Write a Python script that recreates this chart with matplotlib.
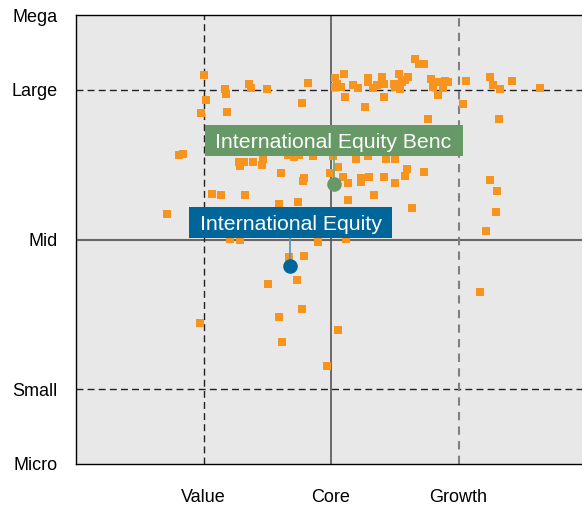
import matplotlib
matplotlib.use("Agg")
import matplotlib.pyplot as plt
from matplotlib.patches import Rectangle

plt.rcParams['font.family'] = ['Liberation Sans', 'DejaVu Sans']

# ---- data (style score x, size score y) ----
holdings_x = [-0.996, -0.829, -0.821, -0.978, -1.017, -0.813, -0.641, -0.625, -0.500, -0.178,
              -0.225, 0.034, 0.104, 0.045, 0.078, 0.031, 0.112, 0.175, 0.209, 0.293,
              0.293, 0.327, 0.358, 0.402, 0.418, 0.418, 0.269, 0.496, 0.504, 0.536,
              0.544, 0.555, 0.580, 0.606, 0.661, 0.693, 0.727, 0.787, 0.798, 0.842,
              0.842, 0.881, 0.896, 0.920, 1.061, 1.039, 0.763, 1.249, 1.273, 1.328,
              1.422, 1.642, 1.320, -1.190, -1.158, -0.719, -0.686, -0.711, -0.609, -0.545,
              -0.531, -0.392, -0.212, -0.220, -0.931, -0.860, -0.672, -1.284, -0.405, -0.256,
              -0.340, -0.293, -0.249, -0.139, -0.008, 0.016, 0.057, 0.198, 0.293, 0.434,
              0.504, 0.598, 0.732, 0.096, 0.136, 0.239, 0.235, 0.300, 0.418, 0.504,
              0.583, 0.340, 0.136, 0.638, 1.249, 1.304, 1.296, 1.218, 0.120, -0.790,
              -0.711, -0.100, -0.332, -0.209, -0.264, -0.492, 1.171, -0.225, -0.405, -1.025,
              0.057, -0.382, -0.029]
holdings_y = [1.100, 1.005, 0.971, 0.931, 0.845, 0.851, 1.038, 1.011, 1.005, 1.045,
              0.911, 1.078, 1.105, 1.038, 1.020, 1.020, 0.951, 1.031, 1.011, 1.078,
              1.049, 1.011, 1.033, 1.087, 1.038, 0.951, 0.885, 1.042, 1.020, 1.105,
              1.005, 1.049, 1.065, 1.087, 1.205, 1.171, 1.171, 1.071, 1.020, 1.049,
              0.965, 1.015, 1.060, 1.049, 1.058, 0.905, 0.805, 1.085, 1.033, 1.005,
              1.058, 1.011, 0.805, 0.565, 0.571, 0.515, 0.515, 0.489, 0.515, 0.501,
              0.538, 0.443, 0.413, 0.393, 0.305, 0.299, 0.299, 0.171, 0.235, 0.251,
              0.567, 0.550, 0.563, 0.555, 0.442, 0.560, 0.485, 0.540, 0.560, 0.541,
              0.541, 0.471, 0.453, 0.420, 0.380, 0.411, 0.382, 0.420, 0.420, 0.378,
              0.427, 0.298, 0.265, 0.211, 0.398, 0.325, 0.185, 0.055, 0.005, 0.001,
              -0.002, -0.018, -0.118, -0.113, -0.269, -0.295, -0.349, -0.462, -0.515, -0.555,
              -0.602, -0.682, -0.842]

benchmark_name = "International Equity Benc"
benchmark_xy = (0.02, 0.373)
fund_name = "International Equity"
fund_xy = (-0.318, -0.180)

x_ticks = [-1, 0, 1]
x_labels = ["Value", "Core", "Growth"]
y_ticks = [1.5, 1, 0, -1, -1.5]
y_labels = ["Mega", "Large", "Mid", "Small", "Micro"]

# ---- figure ----
W, H = 582, 508
fig = plt.figure(figsize=(W / 100, H / 100), dpi=100)
ax_left, ax_right, ax_top, ax_bottom = 76, 586, 15, 464
ax = fig.add_axes([ax_left / W, (H - ax_bottom) / H, (ax_right - ax_left) / W, (ax_bottom - ax_top) / H])
ax.set_xlim(-2, 2)
ax.set_ylim(-1.5, 1.5)
ax.set_facecolor("#e8e8e8")

px_x = (ax_right - ax_left) / 4.0   # pixels per x unit
px_y = (ax_bottom - ax_top) / 3.0   # pixels per y unit

for s in ["left", "top", "bottom"]:
    ax.spines[s].set_color("black")
    ax.spines[s].set_linewidth(1.0)
ax.spines["right"].set_visible(False)

# grid
ax.axhline(1, color="#222222", lw=1.0, ls=(0, (5, 3)), zorder=1)
ax.axhline(-1, color="#222222", lw=1.0, ls=(0, (5, 3)), zorder=1)
ax.axhline(0, color="#666666", lw=1.5, zorder=1)
ax.axvline(-1, color="#222222", lw=1.0, ls=(0, (5, 3)), zorder=1)
ax.axvline(0, color="#555555", lw=1.2, zorder=1)
ax.axvline(1, color="#808080", lw=1.5, ls=(0, (4, 3)), zorder=1)

ax.set_xticks(x_ticks)
ax.set_xticklabels(x_labels, fontsize=13)
ax.set_yticks(y_ticks)
ax.set_yticklabels(y_labels, fontsize=13)
ax.tick_params(axis="both", length=0)
ax.tick_params(axis="y", pad=13)
ax.tick_params(axis="x", pad=18)

ax.scatter(holdings_x, holdings_y, marker="s", s=38, color="#f7941d", linewidths=0, zorder=3)


def label(xy, text, color, line_color, box_w_px, gap_px=28, box_h_px=31):
    x, y = xy
    bw = box_w_px / px_x
    bh = box_h_px / px_y
    y0 = y + gap_px / px_y
    ax.plot([x, x], [y, y0], color=line_color, lw=1.3, zorder=4)
    ax.add_patch(Rectangle((x - bw / 2, y0), bw, bh, facecolor=color, edgecolor="none", zorder=5))
    ax.text(x, y0 + bh / 2, text, color="white", fontsize=15.3, ha="center", va="center_baseline", zorder=6)
    ax.plot([x], [y], marker="o", markersize=10.5, color=color, markeredgewidth=0, zorder=7)


label(benchmark_xy, benchmark_name, "#669966", "#7aa97a", 258)
label(fund_xy, fund_name, "#006699", "#5a95bd", 203)

fig.savefig("out.png", dpi=100)
